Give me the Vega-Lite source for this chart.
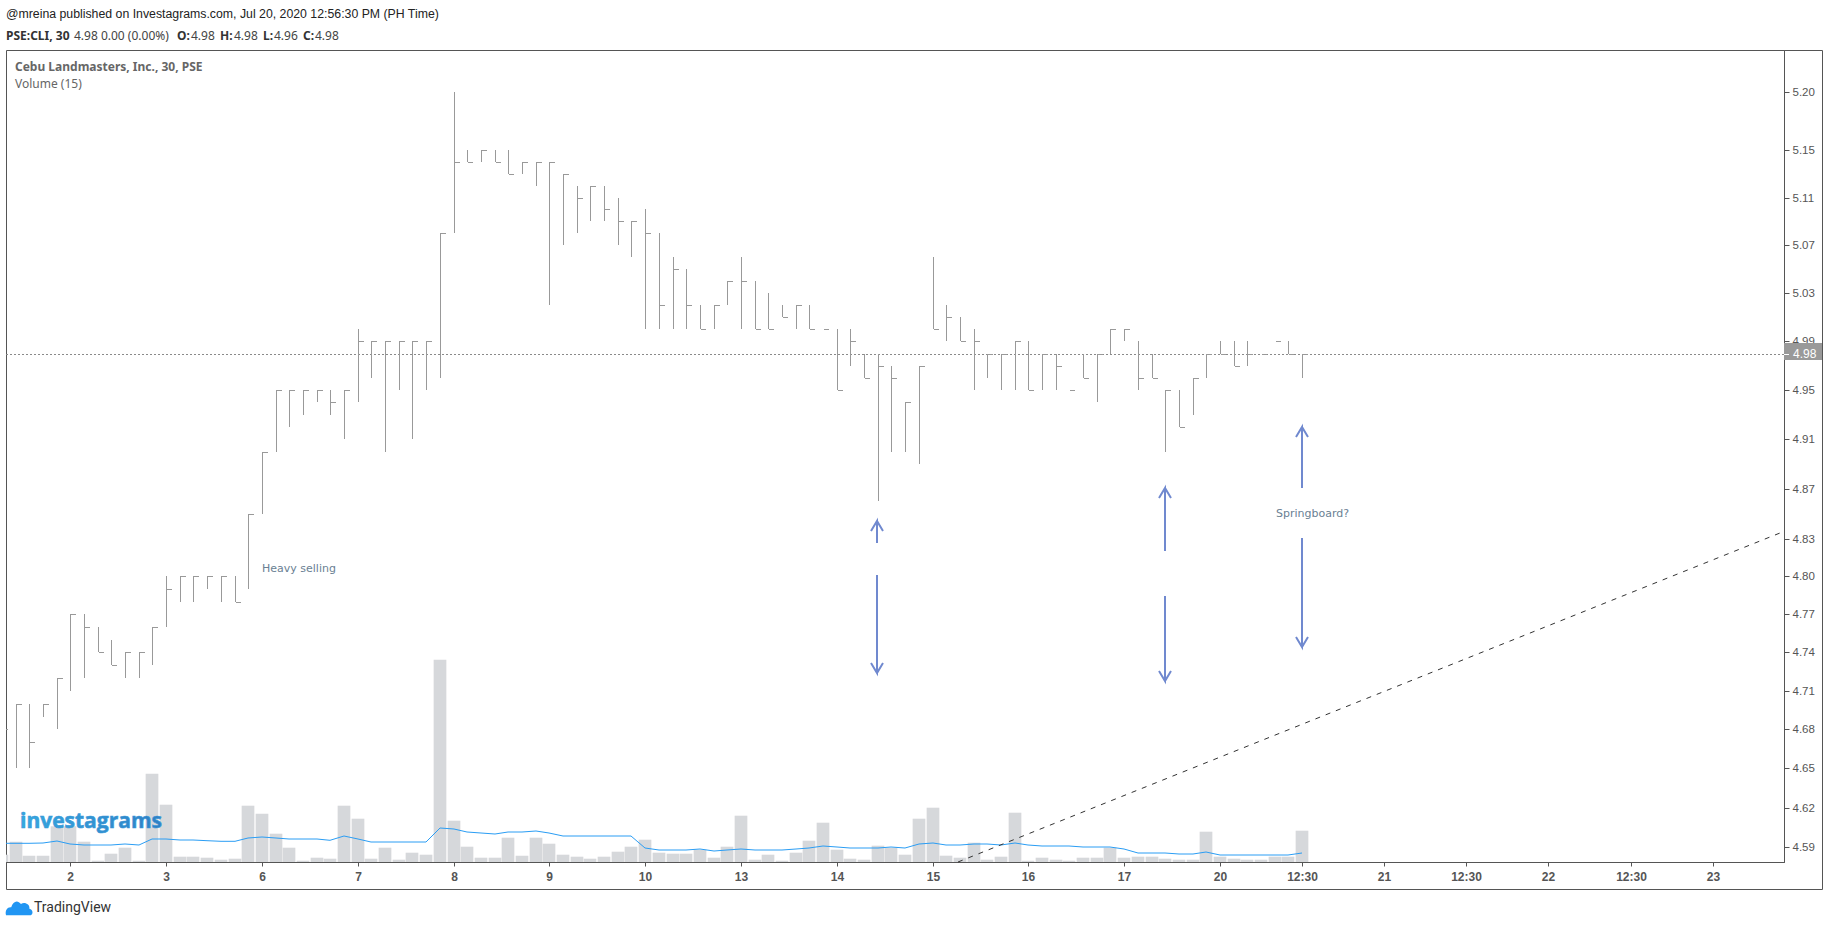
{"$schema":"https://vega.github.io/schema/vega-lite/v6.json","width":1778,"height":812,"autosize":{"type":"none"},"padding":{"left":6,"top":50,"right":45,"bottom":64},"background":"white","config":{"view":{"stroke":"#555555","strokeWidth":1},"text":{"align":"left","baseline":"middle"}},
"datasets":{"bars":[
{"i":0,"high":4.68,"low":4.68,"close":4.68,"volume":7.3,"ma":18.7},{"i":1,"high":4.70,"low":4.65,"close":4.70,"volume":20.3,"ma":18.7},{"i":2,"high":4.70,"low":4.65,"close":4.67,"volume":6.3,"ma":18.7},{"i":3,"high":4.70,"low":4.69,"close":4.70,"volume":6.3,"ma":19},{"i":4,"high":4.72,"low":4.68,"close":4.72,"volume":35.7,"ma":21},{"i":5,"high":4.77,"low":4.71,"close":4.77,"volume":35.7,"ma":18},{"i":6,"high":4.77,"low":4.72,"close":4.76,"volume":20.3,"ma":17},{"i":7,"high":4.76,"low":4.74,"close":4.74,"volume":1.3,"ma":17},{"i":8,"high":4.75,"low":4.73,"close":4.73,"volume":8.3,"ma":17},{"i":9,"high":4.74,"low":4.72,"close":4.74,"volume":14.3,"ma":18},{"i":10,"high":4.74,"low":4.72,"close":4.74,"volume":1.3,"ma":17},{"i":11,"high":4.76,"low":4.73,"close":4.76,"volume":88.3,"ma":23},{"i":12,"high":4.80,"low":4.76,"close":4.79,"volume":57.3,"ma":23},{"i":13,"high":4.80,"low":4.78,"close":4.80,"volume":5.3,"ma":22},{"i":14,"high":4.80,"low":4.78,"close":4.80,"volume":5.3,"ma":22},{"i":15,"high":4.80,"low":4.79,"close":4.80,"volume":4.3,"ma":21.3},{"i":16,"high":4.80,"low":4.78,"close":4.80,"volume":2.3,"ma":20.7},{"i":17,"high":4.80,"low":4.78,"close":4.78,"volume":3.3,"ma":20.7},{"i":18,"high":4.85,"low":4.79,"close":4.85,"volume":56.3,"ma":24},{"i":19,"high":4.90,"low":4.85,"close":4.90,"volume":48.3,"ma":25},
{"i":20,"high":4.95,"low":4.90,"close":4.95,"volume":28.3,"ma":24},{"i":21,"high":4.95,"low":4.92,"close":4.95,"volume":14.3,"ma":23},{"i":22,"high":4.95,"low":4.93,"close":4.95,"volume":1.3,"ma":23},{"i":23,"high":4.95,"low":4.94,"close":4.95,"volume":4.3,"ma":23},{"i":24,"high":4.95,"low":4.93,"close":4.94,"volume":3.3,"ma":21.7},{"i":25,"high":4.95,"low":4.91,"close":4.95,"volume":56.3,"ma":26},{"i":26,"high":5.00,"low":4.94,"close":4.99,"volume":43.3,"ma":23},{"i":27,"high":4.99,"low":4.96,"close":4.99,"volume":3.3,"ma":20},{"i":28,"high":4.99,"low":4.90,"close":4.99,"volume":14.3,"ma":20},{"i":29,"high":4.99,"low":4.95,"close":4.99,"volume":2.3,"ma":20},{"i":30,"high":4.99,"low":4.91,"close":4.99,"volume":9.3,"ma":20},{"i":31,"high":4.99,"low":4.95,"close":4.99,"volume":7.3,"ma":20},{"i":32,"high":5.08,"low":4.96,"close":5.08,"volume":202.3,"ma":34},{"i":33,"high":5.20,"low":5.08,"close":5.14,"volume":41.3,"ma":33},{"i":34,"high":5.15,"low":5.14,"close":5.14,"volume":15.3,"ma":30},{"i":35,"high":5.15,"low":5.14,"close":5.15,"volume":4.3,"ma":29},{"i":36,"high":5.15,"low":5.14,"close":5.14,"volume":4.3,"ma":28},{"i":37,"high":5.15,"low":5.13,"close":5.13,"volume":24.3,"ma":30},{"i":38,"high":5.14,"low":5.13,"close":5.14,"volume":6.3,"ma":30},{"i":39,"high":5.14,"low":5.12,"close":5.14,"volume":24.3,"ma":31},
{"i":40,"high":5.14,"low":5.02,"close":5.14,"volume":18.3,"ma":29},{"i":41,"high":5.13,"low":5.07,"close":5.13,"volume":7.3,"ma":26},{"i":42,"high":5.12,"low":5.08,"close":5.11,"volume":5.3,"ma":26},{"i":43,"high":5.12,"low":5.09,"close":5.12,"volume":3.3,"ma":26},{"i":44,"high":5.12,"low":5.09,"close":5.10,"volume":5.3,"ma":26},{"i":45,"high":5.11,"low":5.07,"close":5.09,"volume":10.3,"ma":26},{"i":46,"high":5.09,"low":5.06,"close":5.09,"volume":15.3,"ma":26},{"i":47,"high":5.10,"low":5.00,"close":5.08,"volume":22.3,"ma":14},{"i":48,"high":5.08,"low":5.00,"close":5.02,"volume":9.3,"ma":12},{"i":49,"high":5.06,"low":5.00,"close":5.05,"volume":8.3,"ma":12},{"i":50,"high":5.05,"low":5.00,"close":5.02,"volume":8.3,"ma":12},{"i":51,"high":5.02,"low":5.00,"close":5.00,"volume":12.3,"ma":13},{"i":52,"high":5.02,"low":5.00,"close":5.02,"volume":4.3,"ma":11},{"i":53,"high":5.04,"low":5.02,"close":5.04,"volume":15.3,"ma":12},{"i":54,"high":5.06,"low":5.00,"close":5.04,"volume":46.3,"ma":13},{"i":55,"high":5.04,"low":5.00,"close":5.00,"volume":2.3,"ma":12},{"i":56,"high":5.03,"low":5.00,"close":5.00,"volume":7.3,"ma":12},{"i":57,"high":5.02,"low":5.01,"close":5.01,"volume":1.3,"ma":12},{"i":58,"high":5.02,"low":5.00,"close":5.02,"volume":9.3,"ma":13},{"i":59,"high":5.02,"low":5.00,"close":5.00,"volume":21.3,"ma":14},
{"i":60,"high":5.00,"low":5.00,"close":5.00,"volume":39.3,"ma":16},{"i":61,"high":5.00,"low":4.95,"close":4.95,"volume":12.3,"ma":15},{"i":62,"high":5.00,"low":4.97,"close":4.99,"volume":3.3,"ma":14},{"i":63,"high":4.98,"low":4.96,"close":4.96,"volume":2.3,"ma":14},{"i":64,"high":4.98,"low":4.86,"close":4.97,"volume":16.3,"ma":14},{"i":65,"high":4.97,"low":4.90,"close":4.96,"volume":14.3,"ma":15},{"i":66,"high":4.94,"low":4.90,"close":4.94,"volume":7.3,"ma":14},{"i":67,"high":4.97,"low":4.89,"close":4.97,"volume":43.3,"ma":18},{"i":68,"high":5.06,"low":5.00,"close":5.00,"volume":54.3,"ma":19},{"i":69,"high":5.02,"low":4.99,"close":5.01,"volume":6.3,"ma":17},{"i":70,"high":5.01,"low":4.99,"close":4.99,"volume":4.3,"ma":17},{"i":71,"high":5.00,"low":4.95,"close":4.99,"volume":19.3,"ma":18},{"i":72,"high":4.98,"low":4.96,"close":4.98,"volume":2.3,"ma":18},{"i":73,"high":4.98,"low":4.95,"close":4.98,"volume":5.3,"ma":17},{"i":74,"high":4.99,"low":4.95,"close":4.99,"volume":49.3,"ma":19},{"i":75,"high":4.99,"low":4.95,"close":4.95,"volume":1.3,"ma":17},{"i":76,"high":4.98,"low":4.95,"close":4.98,"volume":4.3,"ma":16},{"i":77,"high":4.98,"low":4.95,"close":4.97,"volume":2.3,"ma":16},{"i":78,"high":4.95,"low":4.95,"close":4.95,"volume":1.3,"ma":16},{"i":79,"high":4.98,"low":4.96,"close":4.96,"volume":4.3,"ma":15},
{"i":80,"high":4.98,"low":4.94,"close":4.98,"volume":4.3,"ma":15},{"i":81,"high":5.00,"low":4.98,"close":5.00,"volume":14.3,"ma":15},{"i":82,"high":5.00,"low":4.99,"close":5.00,"volume":4.3,"ma":13},{"i":83,"high":4.99,"low":4.95,"close":4.96,"volume":5.3,"ma":9},{"i":84,"high":4.98,"low":4.96,"close":4.96,"volume":5.3,"ma":9},{"i":85,"high":4.95,"low":4.90,"close":4.95,"volume":3.3,"ma":9},{"i":86,"high":4.95,"low":4.92,"close":4.92,"volume":2.3,"ma":8},{"i":87,"high":4.96,"low":4.93,"close":4.96,"volume":2.3,"ma":8},{"i":88,"high":4.98,"low":4.96,"close":4.98,"volume":30.3,"ma":10},{"i":89,"high":4.99,"low":4.98,"close":4.98,"volume":5.3,"ma":7},{"i":90,"high":4.99,"low":4.97,"close":4.97,"volume":3.3,"ma":7},{"i":91,"high":4.99,"low":4.97,"close":4.98,"volume":2.3,"ma":7},{"i":92,"high":4.98,"low":4.98,"close":4.98,"volume":2.3,"ma":7},{"i":93,"high":4.99,"low":4.99,"close":4.99,"volume":5.3,"ma":7},{"i":94,"high":4.99,"low":4.98,"close":4.98,"volume":5.3,"ma":7},{"i":95,"high":4.98,"low":4.96,"close":4.98,"volume":31.3,"ma":9}
],
"arrows":[
{"g":"a1u","o":1,"i":63.96,"price":4.8270},{"g":"a1u","o":2,"i":63.96,"price":4.8446},{"g":"a1u","o":3,"i":63.51,"price":4.8366},{"g":"a1u","o":4,"i":63.96,"price":4.8446},{"g":"a1u","o":5,"i":64.41,"price":4.8366},
{"g":"a1d","o":1,"i":63.96,"price":4.8018},{"g":"a1d","o":2,"i":63.96,"price":4.7248},{"g":"a1d","o":3,"i":63.51,"price":4.7327},{"g":"a1d","o":4,"i":63.96,"price":4.7248},{"g":"a1d","o":5,"i":64.41,"price":4.7327},
{"g":"a2u","o":1,"i":84.97,"price":4.8211},{"g":"a2u","o":2,"i":84.97,"price":4.8714},{"g":"a2u","o":3,"i":84.52,"price":4.8633},{"g":"a2u","o":4,"i":84.97,"price":4.8714},{"g":"a2u","o":5,"i":85.42,"price":4.8633},
{"g":"a2d","o":1,"i":84.97,"price":4.7851},{"g":"a2d","o":2,"i":84.97,"price":4.7186},{"g":"a2d","o":3,"i":84.52,"price":4.7264},{"g":"a2d","o":4,"i":84.97,"price":4.7186},{"g":"a2d","o":5,"i":85.42,"price":4.7264},
{"g":"a3u","o":1,"i":94.97,"price":4.8716},{"g":"a3u","o":2,"i":94.97,"price":4.9207},{"g":"a3u","o":3,"i":94.52,"price":4.9125},{"g":"a3u","o":4,"i":94.97,"price":4.9207},{"g":"a3u","o":5,"i":95.42,"price":4.9125},
{"g":"a3d","o":1,"i":94.97,"price":4.8313},{"g":"a3d","o":2,"i":94.97,"price":4.7452},{"g":"a3d","o":3,"i":94.52,"price":4.7531},{"g":"a3d","o":4,"i":94.97,"price":4.7452},{"g":"a3d","o":5,"i":95.42,"price":4.7531}
]},
"encoding":{"x":{"field":"i","type":"quantitative","scale":{"domain":[0.302,130.21],"nice":false,"zero":false,"padding":0,"round":true},"axis":{"title":null,"grid":false,"values":[5,12,19,26,33,40,47,54,61,68,75,82,89,95,101,107,113,119,125],"labelExpr":"{'5':'2','12':'3','19':'6','26':'7','33':'8','40':'9','47':'10','54':'13','61':'14','68':'15','75':'16','82':'17','89':'20','95':'12:30','101':'21','107':'12:30','113':'22','119':'12:30','125':'23'}[''+datum.value]","labelOverlap":false,"labelBound":false,"labelFlush":false,"labelFont":"Liberation Sans","labelFontSize":12,"labelColor":"#555555","labelFontWeight":{"condition":{"test":"datum.label=='12:30'","value":"normal"},"value":"bold"},"labelPadding":5,"tickSize":4,"tickColor":"#555555","domainColor":"#555555"}}},
"layer":[
{"encoding":{"y":{"field":"volume","type":"quantitative","scale":{"domain":[0,812],"nice":false},"axis":null}},"layer":[
{"data":{"name":"bars"},"mark":{"type":"bar","size":12.7,"color":"#d6d8db","clip":true}},
{"data":{"name":"bars"},"mark":{"type":"line","color":"#2a9df4","strokeWidth":1,"clip":true},"encoding":{"y":{"field":"ma","type":"quantitative"}}}
]},
{"layer":[
{"data":{"values":[{"price":4.98}]},"mark":{"type":"rule","color":"#8a8a8a","strokeDash":[2,2],"strokeWidth":1,"yOffset":0.5},"encoding":{"x":{"value":0},"x2":{"value":1778},"y":{"field":"price","type":"quantitative","scale":{"type":"log","domain":[4.5786,5.2362],"nice":false,"zero":false,"round":true},"axis":{"title":null,"orient":"right","grid":false,"values":[4.59,4.62,4.65,4.68,4.71,4.74,4.77,4.80,4.83,4.87,4.91,4.95,4.99,5.03,5.07,5.11,5.15,5.20],"format":".2f","labelFont":"Liberation Sans","labelFontSize":11.5,"labelColor":"#555555","labelPadding":3,"labelOverlap":false,"labelBound":false,"labelFlush":false,"tickSize":5,"tickColor":"#555555","domainColor":"#555555"}}}},
{"data":{"name":"bars"},"mark":{"type":"rule","color":"#999999","strokeWidth":1,"clip":true,"xOffset":0.5},"encoding":{"y":{"field":"high","type":"quantitative"},"y2":{"field":"low"}}},
{"data":{"name":"bars"},"mark":{"type":"tick","orient":"horizontal","color":"#999999","size":5,"thickness":1,"xOffset":3.5,"yOffset":0.5,"clip":true,"opacity":1},"encoding":{"y":{"field":"close","type":"quantitative"}}},
{"data":{"values":[{"i":69.86,"price":4.5793},{"i":129.92,"price":4.835}]},"mark":{"type":"line","color":"#333333","strokeWidth":1,"strokeDash":[5,6],"yOffset":1},"encoding":{"y":{"field":"price","type":"quantitative"}}},
{"data":{"name":"arrows"},"mark":{"type":"line","color":"#7089cf","strokeWidth":2,"interpolate":"linear","yOffset":1},"encoding":{"y":{"field":"price","type":"quantitative"},"detail":{"field":"g"},"order":{"field":"o"}}},
{"data":{"values":[{"i":130.21,"price":5.2362,"o":1},{"i":132.98,"price":5.2362,"o":2},{"i":132.98,"price":4.5581,"o":3},{"i":0.302,"price":4.5581,"o":4},{"i":0.302,"price":4.5786,"o":5}]},"mark":{"type":"line","color":"#555555","strokeWidth":1,"xOffset":0.5,"yOffset":0.5},"encoding":{"y":{"field":"price","type":"quantitative"},"order":{"field":"o"}}},
{"data":{"values":[{"i":130.21,"i2":132.98,"price":4.9886,"price2":4.9749}]},"mark":{"type":"rect","color":"#999999"},"encoding":{"x2":{"field":"i2"},"y":{"field":"price","type":"quantitative"},"y2":{"field":"price2"}}},
{"data":{"values":[{"i":130.21,"i2":130.6,"price":4.98}]},"mark":{"type":"rule","color":"white","strokeWidth":1,"yOffset":0.5},"encoding":{"x2":{"field":"i2"},"y":{"field":"price","type":"quantitative"}}},
{"data":{"values":[{"i":130.86,"price":4.98,"t":"4.98"}]},"mark":{"type":"text","font":"Liberation Sans","fontSize":12,"color":"white"},"encoding":{"y":{"field":"price","type":"quantitative"},"text":{"field":"t"}}},
{"data":{"values":[{"i":19.0,"price":4.8066,"t":"Heavy selling"},{"i":93.06,"price":4.8505,"t":"Springboard?"}]},"mark":{"type":"text","font":"DejaVu Sans","fontSize":11,"color":"#6a7f93","yOffset":1},"encoding":{"y":{"field":"price","type":"quantitative"},"text":{"field":"t"}}},
{"data":{"values":[{"i":0.30,"price":5.2679,"t":"@mreina published on Investagrams.com, Jul 20, 2020 12:56:30 PM (PH Time)"}]},"mark":{"type":"text","font":"Liberation Sans","fontSize":12.3,"color":"#222222","yOffset":1},"encoding":{"y":{"field":"price","type":"quantitative"},"text":{"field":"t"}}},
{"data":{"values":[{"i":0.30,"price":5.2492,"t":"PSE:CLI, 30"},{"i":12.80,"price":5.2492,"t":"O:"},{"i":15.94,"price":5.2492,"t":"H:"},{"i":19.08,"price":5.2492,"t":"L:"},{"i":22.0,"price":5.2492,"t":"C:"}]},"mark":{"type":"text","font":"Noto Sans","fontSize":12,"fontWeight":"bold","color":"#333333","yOffset":1},"encoding":{"y":{"field":"price","type":"quantitative"},"text":{"field":"t"}}},
{"data":{"values":[{"i":5.27,"price":5.2492,"t":"4.98 0.00 (0.00%)"},{"i":13.80,"price":5.2492,"t":"4.98"},{"i":16.96,"price":5.2492,"t":"4.98"},{"i":19.88,"price":5.2492,"t":"4.96"},{"i":22.88,"price":5.2492,"t":"4.98"}]},"mark":{"type":"text","font":"Noto Sans","fontSize":12,"color":"#444444","yOffset":1},"encoding":{"y":{"field":"price","type":"quantitative"},"text":{"field":"t"}}},
{"data":{"values":[{"i":0.96,"price":5.2220,"t":"Cebu Landmasters, Inc., 30, PSE"}]},"mark":{"type":"text","font":"Noto Sans","fontSize":12,"fontWeight":"bold","color":"#666666","yOffset":1},"encoding":{"y":{"field":"price","type":"quantitative"},"text":{"field":"t"}}},
{"data":{"values":[{"i":0.96,"price":5.2073,"t":"Volume (15)"}]},"mark":{"type":"text","font":"Noto Sans","fontSize":12,"color":"#666666","yOffset":1},"encoding":{"y":{"field":"price","type":"quantitative"},"text":{"field":"t"}}},
{"data":{"values":[{"i":1.326,"price":4.6097,"t":"investagrams"}]},"mark":{"type":"text","font":"Open Sans","fontSize":21,"fontWeight":"bold","stroke":"#3a97d8","strokeWidth":0.6,"yOffset":1,"color":{"gradient":"linear","x1":0,"x2":1,"y1":0,"y2":0,"stops":[{"offset":0,"color":"#35a9e0"},{"offset":1,"color":"#2f7fc4"}]}},"encoding":{"y":{"field":"price","type":"quantitative"},"text":{"field":"t"}}},
{"data":{"values":[{"i":2.35,"price":4.5449,"t":"TradingView"}]},"mark":{"type":"text","font":"Roboto","fontSize":14,"color":"#333333","yOffset":1},"encoding":{"y":{"field":"price","type":"quantitative"},"text":{"field":"t"}}},
{"data":{"values":[{"i":1.25,"price":4.5449}]},"mark":{"type":"point","filled":true,"opacity":1,"color":"#2196f3","size":676,"yOffset":1,"shape":"M-1,.55 C-1.1,.15 -.85,-.1 -.6,-.05 C-.45,-.55 -.1,-.65 .15,-.3 C.4,-.5 .85,-.3 .8,.05 C1.1,.1 1.1,.5 .9,.55 Z"},"encoding":{"y":{"field":"price","type":"quantitative"}}}
]}
],
"resolve":{"scale":{"y":"independent"}}}
